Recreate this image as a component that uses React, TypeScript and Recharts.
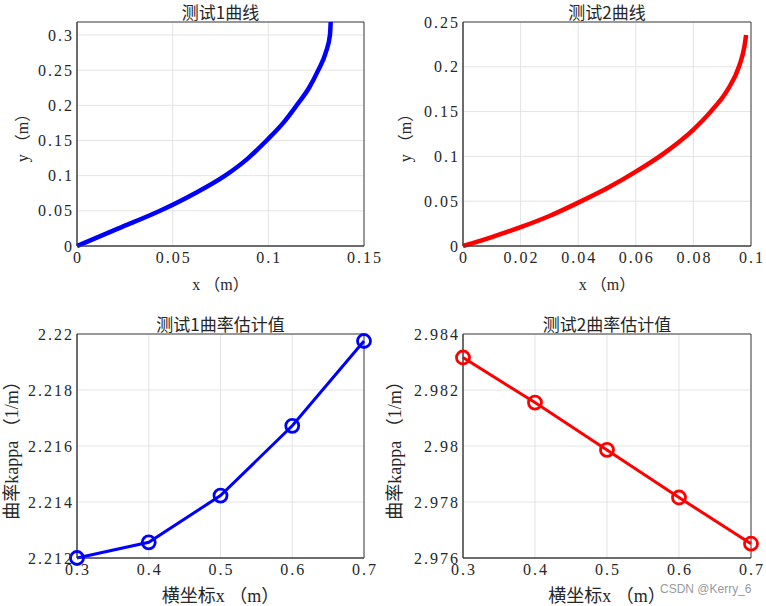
import React from 'react';
import { LineChart, Line, XAxis, YAxis, CartesianGrid, ReferenceArea } from 'recharts';

// test 1 curve (x, y in metres)
const curve1X = [0, 0.0217, 0.0434, 0.0617, 0.0774, 0.0895, 0.0991, 0.1078, 0.1148, 0.1213, 0.1261, 0.13, 0.1322, 0.1326];
const curve1Y = [0, 0.025, 0.05, 0.075, 0.1, 0.125, 0.15, 0.175, 0.2, 0.225, 0.25, 0.275, 0.3, 0.3185];

// test 2 curve
const curve2X = [0, 0.01, 0.02, 0.03, 0.04, 0.05, 0.06, 0.07, 0.08, 0.086, 0.0918, 0.0958, 0.0977, 0.0983];
const curve2Y = [0, 0.01, 0.021, 0.0335, 0.0484, 0.0644, 0.083, 0.104, 0.13, 0.15, 0.174, 0.2, 0.2224, 0.2355];

// curvature estimates
const sampleX = [0.3, 0.4, 0.5, 0.6, 0.7];
const kappa1 = [2.212, 2.21256, 2.21423, 2.21672, 2.21975];
const kappa2 = [2.98316, 2.98155, 2.97986, 2.97816, 2.97651];

const ticks1X = [0, 0.05, 0.1, 0.15];
const ticks1Y = [0, 0.05, 0.1, 0.15, 0.2, 0.25, 0.3];
const ticks2X = [0, 0.02, 0.04, 0.06, 0.08, 0.1];
const ticks2Y = [0, 0.05, 0.1, 0.15, 0.2, 0.25];
const ticksSample = [0.3, 0.4, 0.5, 0.6, 0.7];
const ticksK1 = [2.212, 2.214, 2.216, 2.218, 2.22];
const ticksK2 = [2.976, 2.978, 2.98, 2.982, 2.984];

const AXIS = '#404040';
const TEXT = '#262626';
const GRID = '#e3e3e3';
const SERIF = "'Liberation Serif', 'Noto Sans CJK SC', serif";
const CJK = "'Noto Sans CJK SC', sans-serif";

const fmt = (v: number) => String(Number(v.toFixed(4)));

const XTick = (props: any) => {
  const { x, y, payload } = props;
  return (
    <text
      x={x + 1}
      y={y + 11}
      textAnchor="middle"
      fill={TEXT}
      fontSize={16}
      fontFamily="Liberation Serif"
      letterSpacing={2}
    >
      {fmt(payload.value)}
    </text>
  );
};

const YTick = (props: any) => {
  const { x, y, payload } = props;
  return (
    <text
      x={x + 1}
      y={y + 5.5}
      textAnchor="end"
      fill={TEXT}
      fontSize={16}
      fontFamily="Liberation Serif"
      letterSpacing={2}
    >
      {fmt(payload.value)}
    </text>
  );
};

type PanelProps = {
  left: number;
  top: number;
  width: number;
  height: number;
  yAxisW: number;
  xAxisH: number;
  marginTop: number;
  marginRight: number;
  data: { x: number; y: number }[];
  xDomain: [number, number];
  yDomain: [number, number];
  xTicks: number[];
  yTicks: number[];
  color: string;
  markers: boolean;
  title: string;
  xLabel: string;
  yLabel: string;
  labelSize: number;
  xLabelOffset: number;
  yLabelOffset: number;
};

const Panel = (p: PanelProps) => {
  const boxW = p.width - p.yAxisW - p.marginRight;
  return (
    <div style={{ position: 'absolute', left: p.left, top: p.top }}>
      <div
        style={{
          position: 'absolute', left: p.yAxisW, top: p.marginTop - 19, width: boxW,
          height: 18, lineHeight: '18px', textAlign: 'center',
          fontFamily: CJK, fontSize: 17, color: TEXT, whiteSpace: 'nowrap',
        }}
      >
        {p.title}
      </div>
      <LineChart
        width={p.width}
        height={p.height}
        data={p.data}
        margin={{ top: p.marginTop, right: p.marginRight, left: 0, bottom: 0 }}
      >
        <CartesianGrid xAxisId="b" yAxisId="l" stroke={GRID} strokeWidth={1} />
        <XAxis
          xAxisId="b"
          dataKey="x"
          type="number"
          domain={p.xDomain}
          ticks={p.xTicks}
          height={p.xAxisH}
          stroke={AXIS}
          tickLine={false}
          tickSize={0}
          tickMargin={6}
          tick={<XTick />}
          label={{
            value: p.xLabel,
            position: 'insideBottom',
            offset: p.xLabelOffset,
            style: { fill: TEXT, fontSize: p.labelSize },
          }}
        />
        <XAxis
          xAxisId="bi"
          dataKey="x"
          type="number"
          domain={p.xDomain}
          ticks={p.xTicks}
          mirror
          height={1}
          stroke={AXIS}
          axisLine={false}
          tickSize={4}
          tick={false}
        />
        <XAxis
          xAxisId="ti"
          dataKey="x"
          type="number"
          domain={p.xDomain}
          ticks={p.xTicks}
          orientation="top"
          mirror
          height={1}
          stroke={AXIS}
          axisLine={false}
          tickSize={4}
          tick={false}
        />
        <YAxis
          yAxisId="l"
          type="number"
          domain={p.yDomain}
          ticks={p.yTicks}
          width={p.yAxisW}
          stroke={AXIS}
          tickLine={false}
          tickSize={0}
          tickMargin={4}
          tick={<YTick />}
          label={{
            value: p.yLabel,
            angle: -90,
            position: 'insideLeft',
            offset: p.yLabelOffset,
            style: { textAnchor: 'middle', fill: TEXT, fontSize: p.labelSize },
          }}
        />
        <YAxis
          yAxisId="li"
          type="number"
          domain={p.yDomain}
          ticks={p.yTicks}
          mirror
          width={1}
          stroke={AXIS}
          axisLine={false}
          tickSize={4}
          tick={false}
        />
        <YAxis
          yAxisId="ri"
          type="number"
          domain={p.yDomain}
          ticks={p.yTicks}
          orientation="right"
          mirror
          width={1}
          stroke={AXIS}
          axisLine={false}
          tickSize={4}
          tick={false}
        />
        <ReferenceArea
          xAxisId="b"
          yAxisId="l"
          x1={p.xDomain[0]}
          x2={p.xDomain[1]}
          y1={p.yDomain[0]}
          y2={p.yDomain[1]}
          fill="none"
          stroke={AXIS}
          strokeWidth={1}
        />
        <Line
          xAxisId="b"
          yAxisId="l"
          dataKey="y"
          type={p.markers ? 'linear' : 'monotone'}
          stroke={p.color}
          strokeWidth={p.markers ? 3 : 4.5}
          dot={p.markers ? { r: 6.5, stroke: p.color, strokeWidth: 2.8, fill: 'none' } : false}
          isAnimationActive={false}
        />
      </LineChart>
    </div>
  );
};

const zip = (xs: number[], ys: number[]) => xs.map((x, i) => ({ x, y: ys[i] }));

export default function App() {
  return (
    <div
      style={{
        position: 'absolute', left: 0, top: 0, width: 766, height: 606,
        background: '#fff', overflow: 'hidden', fontFamily: SERIF,
      }}
    >
      <Panel
        left={0} top={0} width={383} height={300}
        yAxisW={77} xAxisH={54} marginTop={22} marginRight={19}
        data={zip(curve1X, curve1Y)}
        xDomain={[0, 0.15]} yDomain={[0, 0.3185]}
        xTicks={ticks1X} yTicks={ticks1Y}
        color="#0000ff" markers={false}
        title="测试1曲线" xLabel="x （m）" yLabel="y （m）"
        labelSize={16} xLabelOffset={10} yLabelOffset={22}
      />
      <Panel
        left={383} top={0} width={383} height={300}
        yAxisW={80} xAxisH={54} marginTop={22} marginRight={15}
        data={zip(curve2X, curve2Y)}
        xDomain={[0, 0.1]} yDomain={[0, 0.25]}
        xTicks={ticks2X} yTicks={ticks2Y}
        color="#ff0000" markers={false}
        title="测试2曲线" xLabel="x （m）" yLabel="y （m）"
        labelSize={16} xLabelOffset={10} yLabelOffset={22}
      />
      <Panel
        left={0} top={300} width={383} height={306}
        yAxisW={77} xAxisH={48} marginTop={34} marginRight={19}
        data={zip(sampleX, kappa1)}
        xDomain={[0.3, 0.7]} yDomain={[2.212, 2.22]}
        xTicks={ticksSample} yTicks={ticksK1}
        color="#0000ff" markers
        title="测试1曲率估计值" xLabel="横坐标x （m）" yLabel="曲率kappa （1/m）"
        labelSize={18} xLabelOffset={4} yLabelOffset={12}
      />
      <Panel
        left={383} top={300} width={383} height={306}
        yAxisW={80} xAxisH={48} marginTop={34} marginRight={15}
        data={zip(sampleX, kappa2)}
        xDomain={[0.3, 0.7]} yDomain={[2.976, 2.984]}
        xTicks={ticksSample} yTicks={ticksK2}
        color="#ff0000" markers
        title="测试2曲率估计值" xLabel="横坐标x （m）" yLabel="曲率kappa （1/m）"
        labelSize={18} xLabelOffset={4} yLabelOffset={12}
      />
      <div
        style={{
          position: 'absolute', left: 660, top: 582, fontSize: 12,
          fontFamily: "'Liberation Sans', sans-serif", color: '#9a9a9a',
        }}
      >
        CSDN @Kerry_6
      </div>
    </div>
  );
}
